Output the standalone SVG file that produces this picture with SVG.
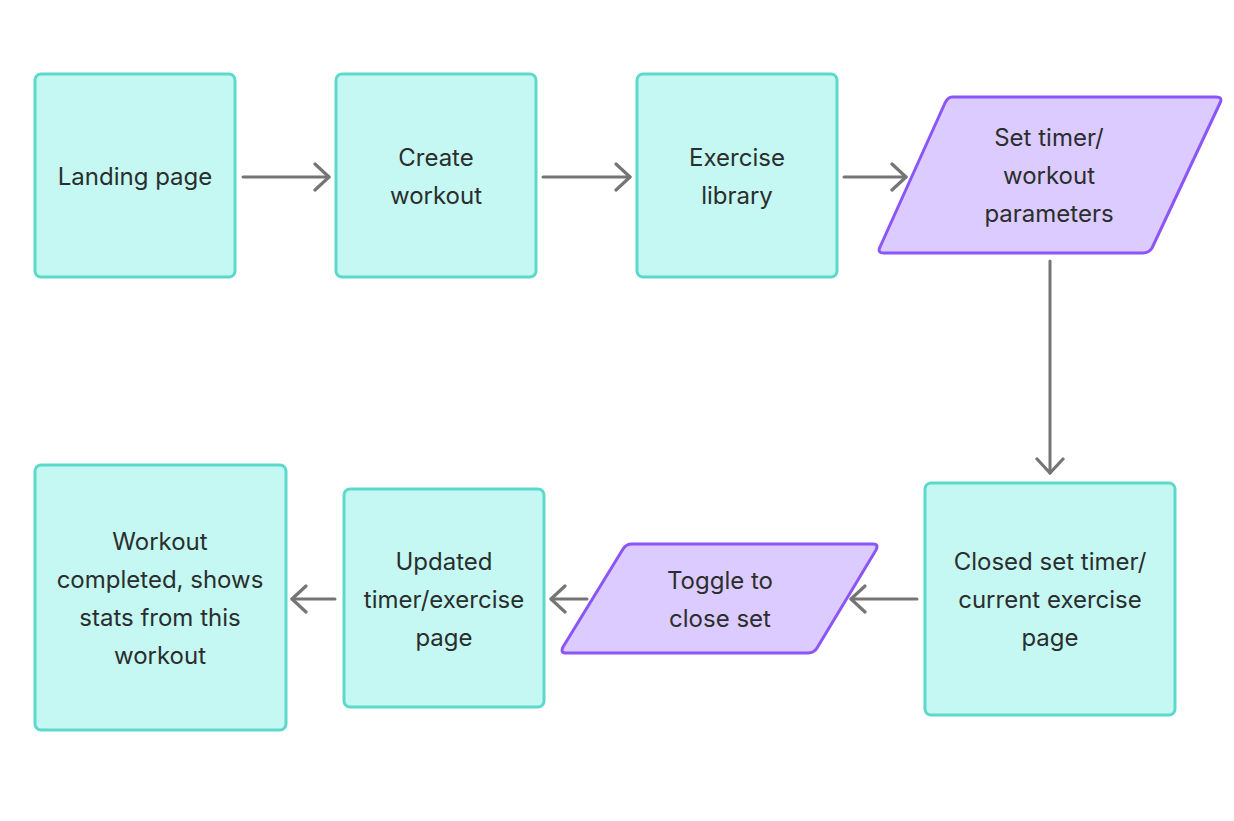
<svg xmlns="http://www.w3.org/2000/svg" width="1234" height="821" viewBox="0 0 1234 821">
<style>
.box{fill:#c5f8f2;stroke:#5dd9cb;stroke-width:3}
.io{fill:#dccbff;stroke:#8b55f7;stroke-width:3;stroke-linejoin:round}
.t{font-family:Inter,"Noto Sans",sans-serif;font-size:24px;fill:#2a2e2e;text-anchor:middle}
.c{fill:none;stroke:#757575;stroke-width:3;stroke-linecap:round;stroke-linejoin:round}
</style>
<defs>
<marker id="ah" viewBox="0 0 18 30" refX="16" refY="15" markerWidth="18" markerHeight="30" markerUnits="userSpaceOnUse" orient="auto">
<path d="M2,2 L16,15 L2,28" fill="none" stroke="#757575" stroke-width="3.2" stroke-linecap="round" stroke-linejoin="round"/>
</marker>
</defs>
<rect width="1234" height="821" fill="#ffffff"/>
<g id="connectors">
<path class="c" d="M243,177 H329" marker-end="url(#ah)"/>
<path class="c" d="M543,177 H630" marker-end="url(#ah)"/>
<path class="c" d="M844,177 H906" marker-end="url(#ah)"/>
<path class="c" d="M1050,261 V473" marker-end="url(#ah)"/>
<path class="c" d="M917,599 H851" marker-end="url(#ah)"/>
<path class="c" d="M587,599 H551" marker-end="url(#ah)"/>
<path class="c" d="M335,599 H292" marker-end="url(#ah)"/>
</g>
<g id="landing">
<rect class="box" x="35" y="74" width="200" height="203" rx="6"/>
<text class="t" x="135" y="185">Landing page</text>
</g>
<g id="create">
<rect class="box" x="336" y="74" width="200" height="203" rx="6"/>
<text class="t" x="436" y="166">Create</text>
<text class="t" x="436" y="204">workout</text>
</g>
<g id="library">
<rect class="box" x="637" y="74" width="200" height="203" rx="6"/>
<text class="t" x="737" y="166">Exercise</text>
<text class="t" x="737" y="204">library</text>
</g>
<g id="settimer">
<path class="io" d="M952,97 H1216 Q1223,97 1220,103 L1152,248 Q1149,253 1143,253 H884 Q877,253 880,247 L945,103 Q948,97 952,97 Z"/>
<text class="t" x="1049" y="146">Set timer/</text>
<text class="t" x="1049" y="184">workout</text>
<text class="t" x="1049" y="222">parameters</text>
</g>
<g id="closedset">
<rect class="box" x="925" y="483" width="250" height="232" rx="6"/>
<text class="t" x="1050" y="570">Closed set timer/</text>
<text class="t" x="1050" y="608">current exercise</text>
<text class="t" x="1050" y="646">page</text>
</g>
<g id="toggle">
<path class="io" d="M632,544 H873 Q879,544 876,550 L817,648 Q814,653 808,653 H566 Q560,653 563,647 L623,549 Q626,544 632,544 Z"/>
<text class="t" x="720" y="589">Toggle to</text>
<text class="t" x="720" y="627">close set</text>
</g>
<g id="updated">
<rect class="box" x="344" y="489" width="200" height="218" rx="6"/>
<text class="t" x="444" y="570">Updated</text>
<text class="t" x="444" y="608">timer/exercise</text>
<text class="t" x="444" y="646">page</text>
</g>
<g id="completed">
<rect class="box" x="35" y="465" width="251" height="265" rx="6"/>
<text class="t" x="160" y="550">Workout</text>
<text class="t" x="160" y="588">completed, shows</text>
<text class="t" x="160" y="626">stats from this</text>
<text class="t" x="160" y="664">workout</text>
</g>
</svg>
